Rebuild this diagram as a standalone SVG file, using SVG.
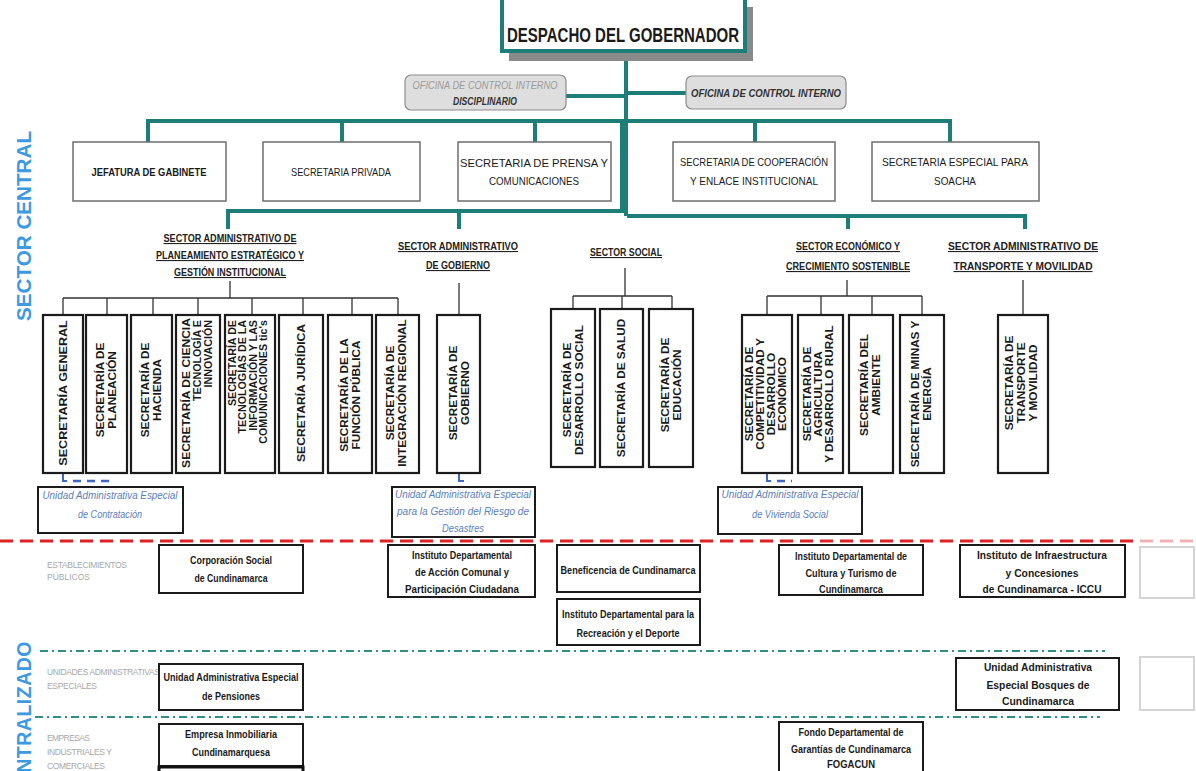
<svg xmlns="http://www.w3.org/2000/svg" width="1196" height="771" viewBox="0 0 1196 771">
<style>
text{font-family:"Liberation Sans Narrow","Liberation Sans",Arial,sans-serif}
.teal{stroke:#1d7d78;stroke-width:4;fill:none}
.blk{stroke:#333;stroke-width:1.3;fill:none}
.blue{stroke:#3f66c9;stroke-width:2;fill:none}
.bdash{stroke:#3f66c9;stroke-width:2.5;fill:none;stroke-dasharray:8 6}
.rbox{fill:#fff;stroke:#6e6e6e;stroke-width:1.5}
.vbox{fill:#fff;stroke:#1b1b1b;stroke-width:2.2}
.bbox{fill:#fff;stroke:#1b1b1b;stroke-width:2}
.obox{fill:#dedede;stroke:#8c8c8c;stroke-width:1.2}
.hd{font-size:11px;font-weight:bold;fill:#222;text-decoration:underline;text-anchor:middle}
.rt{font-size:10.5px;fill:#1a1a1a;text-anchor:middle}
.vt{font-size:11px;font-weight:bold;fill:#1a1a1a;text-anchor:middle}
.ve{font-size:10px;font-weight:bold;fill:#1a1a1a;text-anchor:end}
.bt{font-size:11px;font-weight:bold;fill:#1a1a1a;text-anchor:middle}
.ut{font-size:10.5px;font-style:italic;fill:#5a80b8;text-anchor:middle}
.gl{font-size:8.5px;fill:#a8a8a8}
.side{font-size:19.5px;font-weight:bold;fill:#3d9ae0}
.red{stroke:#dc2222;stroke-width:3;stroke-dasharray:13 7;fill:none}
.dd{stroke:#2f8f86;stroke-width:2;stroke-dasharray:8 4 2 4;fill:none}
</style>

<g id="side-labels">
<text class="side" transform="translate(31,226) rotate(-90)" text-anchor="middle" textLength="190" lengthAdjust="spacingAndGlyphs">SECTOR CENTRAL</text>
<text class="side" transform="translate(31,641) rotate(-90)" text-anchor="end" letter-spacing="0.5">NTRALIZADO</text>
<text class="gl" x="47" y="568" textLength="80">ESTABLECIMIENTOS</text>
<text class="gl" x="47" y="580" textLength="43">PÚBLICOS</text>
<text class="gl" x="47" y="675" textLength="113">UNIDADES ADMINISTRATIVAS</text>
<text class="gl" x="47" y="689" textLength="50">ESPECIALES</text>
<text class="gl" x="47" y="741" textLength="43">EMPRESAS</text>
<text class="gl" x="47" y="755" textLength="65">INDUSTRIALES Y</text>
<text class="gl" x="47" y="769" textLength="58">COMERCIALES</text>
</g>

<g id="separators">
<path class="red" d="M0,541 H1140"/>
<path class="red" d="M1140,541 H1196" stroke-opacity="0.35"/>
<path class="dd" d="M40,651 H1105"/>
<path class="dd" d="M35,717 H1100"/>
</g>

<g id="connectors">
<path class="teal" d="M626,50 V216"/>
<path class="teal" d="M566,96 H626"/>
<path class="teal" d="M626,93 H686"/>
<path class="teal" d="M148,142 V121 H950 V142"/>
<path class="teal" d="M342,121 V142 M535,121 V142 M755,121 V142"/>
<path class="teal" d="M622,121 V211 H228 V229"/>
<path class="teal" d="M627,216 H1025 V229"/>
<path class="teal" d="M459,211 V229 M848,216 V229"/>
<path class="blk" d="M230,281 V298 M63,298 H398 M63,298 V315 M107,298 V315 M153,298 V315 M198,298 V315 M252,298 V315 M303,298 V315 M352,298 V315 M398,298 V315"/>
<path class="blk" d="M459,283 V315"/>
<path class="blk" d="M625,268 V296 M573,296 H672 M573,296 V309 M622,296 V309 M672,296 V309"/>
<path class="blk" d="M847,280 V296 M767,296 H922 M767,296 V315 M821,296 V315 M872,296 V315 M922,296 V315"/>
<path class="blk" d="M1023,280 V315"/>
<path class="blue" d="M63,474 V481 H67"/>
<path class="bdash" d="M73,481 H113"/>
<path class="blue" d="M459,474 V481 H464"/>
<path class="blue" d="M767,474 V481 H771"/>
<path class="bdash" d="M777,481 H792"/>
</g>

<g id="despacho">
<rect x="509" y="7" width="244" height="54" fill="#8a8a8a"/>
<rect x="502" y="-2" width="243" height="53" fill="#fff" stroke="#1d7d78" stroke-width="4"/>
<text x="623" y="42" font-size="21" font-weight="bold" fill="#1a1a1a" text-anchor="middle" textLength="232" lengthAdjust="spacingAndGlyphs">DESPACHO DEL GOBERNADOR</text>
</g>

<g id="oficina-disciplinario">
<rect class="obox" x="405" y="75" width="161" height="35" rx="6"/>
<text x="485" y="89" font-size="10" font-style="italic" fill="#9a9a9a" text-anchor="middle" textLength="145" lengthAdjust="spacingAndGlyphs">OFICINA  DE CONTROL INTERNO</text>
<text x="485" y="105" font-size="10" font-style="italic" font-weight="bold" fill="#333" text-anchor="middle" textLength="64" lengthAdjust="spacingAndGlyphs">DISCIPLINARIO</text>
</g>
<g id="oficina-control">
<rect class="obox" x="686" y="76" width="160" height="33" rx="6"/>
<text x="766" y="97" font-size="10" font-style="italic" font-weight="bold" fill="#333" text-anchor="middle" textLength="150" lengthAdjust="spacingAndGlyphs">OFICINA  DE CONTROL INTERNO</text>
</g>

<g id="jefatura"><rect class="rbox" x="73" y="142" width="153" height="59"/>
<text class="rt" x="149" y="176" font-weight="bold" textLength="115" lengthAdjust="spacingAndGlyphs">JEFATURA DE GABINETE</text></g>
<g id="privada"><rect class="rbox" x="263" y="142" width="157" height="59"/>
<text class="rt" x="341" y="176" textLength="100" lengthAdjust="spacingAndGlyphs">SECRETARIA PRIVADA</text></g>
<g id="prensa"><rect class="rbox" x="458" y="142" width="153" height="59"/>
<text class="rt" x="534" y="167" textLength="148" lengthAdjust="spacingAndGlyphs">SECRETARIA DE PRENSA Y</text>
<text class="rt" x="534" y="185" textLength="90" lengthAdjust="spacingAndGlyphs">COMUNICACIONES</text></g>
<g id="cooperacion"><rect class="rbox" x="673" y="142" width="162" height="59"/>
<text class="rt" x="754" y="166" textLength="148" lengthAdjust="spacingAndGlyphs">SECRETARIA DE  COOPERACIÓN</text>
<text class="rt" x="754" y="185" textLength="128" lengthAdjust="spacingAndGlyphs">Y ENLACE INSTITUCIONAL</text></g>
<g id="soacha"><rect class="rbox" x="872" y="142" width="167" height="59"/>
<text class="rt" x="955" y="166" textLength="146" lengthAdjust="spacingAndGlyphs">SECRETARIA ESPECIAL PARA</text>
<text class="rt" x="955" y="185" textLength="42" lengthAdjust="spacingAndGlyphs">SOACHA</text></g>

<g id="sector-planeamiento">
<text class="hd" x="230" y="242" textLength="133" lengthAdjust="spacingAndGlyphs">SECTOR ADMINISTRATIVO DE</text>
<text class="hd" x="230" y="259" textLength="148" lengthAdjust="spacingAndGlyphs">PLANEAMIENTO ESTRATÉGICO Y</text>
<text class="hd" x="230" y="276" textLength="112" lengthAdjust="spacingAndGlyphs">GESTIÓN INSTITUCIONAL</text>
</g>
<g id="sector-gobierno">
<text class="hd" x="458" y="250" textLength="120" lengthAdjust="spacingAndGlyphs">SECTOR  ADMINISTRATIVO</text>
<text class="hd" x="458" y="269" textLength="64" lengthAdjust="spacingAndGlyphs">DE GOBIERNO</text>
</g>
<g id="sector-social">
<text class="hd" x="626" y="256" textLength="72" lengthAdjust="spacingAndGlyphs">SECTOR SOCIAL</text>
</g>
<g id="sector-economico">
<text class="hd" x="848" y="250" textLength="104" lengthAdjust="spacingAndGlyphs">SECTOR ECONÓMICO Y</text>
<text class="hd" x="848" y="270" textLength="124" lengthAdjust="spacingAndGlyphs">CRECIMIENTO SOSTENIBLE</text>
</g>
<g id="sector-transporte">
<text class="hd" x="1023" y="250" textLength="150" lengthAdjust="spacingAndGlyphs">SECTOR ADMINISTRATIVO DE</text>
<text class="hd" x="1023" y="270" textLength="139" lengthAdjust="spacingAndGlyphs">TRANSPORTE Y MOVILIDAD</text>
</g>

<g id="sec-general"><rect class="vbox" x="43" y="315" width="40" height="158"/>
<text class="vt" transform="translate(67,393) rotate(-90) scale(1.07,1)" textLength="136" lengthAdjust="spacingAndGlyphs">SECRETARÍA GENERAL</text></g>
<g id="sec-planeacion"><rect class="vbox" x="86" y="315" width="41" height="158"/>
<text class="vt" transform="translate(104,390) rotate(-90) scale(1.07,1)"><tspan x="0" y="0">SECRETARÍA DE</tspan><tspan x="0" y="12">PLANEACIÓN</tspan></text></g>
<g id="sec-hacienda"><rect class="vbox" x="131" y="315" width="41" height="158"/>
<text class="vt" transform="translate(149,390) rotate(-90) scale(1.07,1)"><tspan x="0" y="0">SECRETARÍA DE</tspan><tspan x="0" y="12">HACIENDA</tspan></text></g>
<g id="sec-ciencia"><rect class="vbox" x="176" y="315" width="44" height="158"/>
<text class="vt" transform="translate(189.5,393) rotate(-90) scale(1.07,1)" textLength="140" lengthAdjust="spacingAndGlyphs">SECRETARÍA DE CIENCIA</text>
<text class="ve" transform="translate(201,320) rotate(-90) scale(1.07,1)"><tspan x="0" y="0">TECNOLOGÍA E</tspan><tspan x="0" y="11">INNOVACIÓN</tspan></text></g>
<g id="sec-tic"><rect class="vbox" x="225" y="315" width="50" height="158"/>
<text class="ve" transform="translate(236,320) rotate(-90) scale(1.07,1)"><tspan x="0" y="0">SECRETARÍA DE</tspan><tspan x="0" y="10.5">TECNOLOGÍAS DE LA</tspan><tspan x="0" y="21">INFORMACIÓN Y LAS</tspan><tspan x="0" y="31.5">COMUNICACIONES tic's</tspan></text></g>
<g id="sec-juridica"><rect class="vbox" x="279" y="315" width="44" height="158"/>
<text class="vt" transform="translate(305,393) rotate(-90) scale(1.07,1)" textLength="129" lengthAdjust="spacingAndGlyphs">SECRETARÍA JURÍDICA</text></g>
<g id="sec-funcion"><rect class="vbox" x="328" y="315" width="44" height="158"/>
<text class="vt" transform="translate(348,395) rotate(-90) scale(1.07,1)"><tspan x="0" y="0">SECRETARÍA DE LA</tspan><tspan x="0" y="12">FUNCIÓN PÚBLICA</tspan></text></g>
<g id="sec-integracion"><rect class="vbox" x="376" y="315" width="43" height="158"/>
<text class="vt" transform="translate(394,393) rotate(-90) scale(1.07,1)"><tspan x="0" y="0">SECRETARÍA DE</tspan><tspan x="0" y="12">INTEGRACIÓN REGIONAL</tspan></text></g>

<g id="sec-gobierno"><rect class="vbox" x="437" y="315" width="43" height="158"/>
<text class="vt" transform="translate(457,393) rotate(-90) scale(1.07,1)"><tspan x="0" y="0">SECRETARÍA DE</tspan><tspan x="0" y="12">GOBIERNO</tspan></text></g>

<g id="sec-desarrollo-social"><rect class="vbox" x="551" y="309" width="44" height="158"/>
<text class="vt" transform="translate(571,390) rotate(-90) scale(1.07,1)"><tspan x="0" y="0">SECRETARÍA DE</tspan><tspan x="0" y="12">DESARROLLO SOCIAL</tspan></text></g>
<g id="sec-salud"><rect class="vbox" x="600" y="309" width="43" height="158"/>
<text class="vt" transform="translate(625,388) rotate(-90) scale(1.07,1)">SECRETARÍA DE SALUD</text></g>
<g id="sec-educacion"><rect class="vbox" x="649" y="309" width="44" height="158"/>
<text class="vt" transform="translate(669,385) rotate(-90) scale(1.07,1)"><tspan x="0" y="0">SECRETARÍA DE</tspan><tspan x="0" y="12">EDUCACIÓN</tspan></text></g>

<g id="sec-competitividad"><rect class="vbox" x="742" y="315" width="50" height="158"/>
<text class="vt" transform="translate(753,394) rotate(-90) scale(1.07,1)"><tspan x="0" y="0">SECRETARÍA DE</tspan><tspan x="0" y="11">COMPETITIVIDAD Y</tspan><tspan x="0" y="22">DESARROLLO</tspan><tspan x="0" y="33">ECONÓMICO</tspan></text></g>
<g id="sec-agricultura"><rect class="vbox" x="798" y="315" width="45" height="158"/>
<text class="vt" transform="translate(810.5,394) rotate(-90) scale(1.07,1)"><tspan x="0" y="0">SECRETARÍA DE</tspan><tspan x="0" y="11.5">AGRICULTURA</tspan><tspan x="0" y="23">Y  DESARROLLO RURAL</tspan></text></g>
<g id="sec-ambiente"><rect class="vbox" x="849" y="315" width="44" height="158"/>
<text class="vt" transform="translate(868,385) rotate(-90) scale(1.07,1)"><tspan x="0" y="0">SECRETARÍA DEL</tspan><tspan x="0" y="12">AMBIENTE</tspan></text></g>
<g id="sec-minas"><rect class="vbox" x="900" y="315" width="44" height="158"/>
<text class="vt" transform="translate(919,394) rotate(-90) scale(1.07,1)"><tspan x="0" y="0">SECRETARÍA DE MINAS Y</tspan><tspan x="0" y="12">ENERGÍA</tspan></text></g>

<g id="sec-transporte"><rect class="vbox" x="998" y="315" width="50" height="158"/>
<text class="vt" transform="translate(1013,383) rotate(-90) scale(1.07,1)"><tspan x="0" y="0">SECRETARÍA DE</tspan><tspan x="0" y="12">TRANSPORTE</tspan><tspan x="0" y="24">Y MOVILIDAD</tspan></text></g>

<g id="uae-contratacion"><rect class="bbox" x="38" y="487" width="145" height="46"/>
<text class="ut" x="110" y="499" textLength="135" lengthAdjust="spacingAndGlyphs">Unidad  Administrativa Especial</text>
<text class="ut" x="110" y="518" textLength="64" lengthAdjust="spacingAndGlyphs">de Contratación</text></g>
<g id="uae-riesgo"><rect class="bbox" x="392" y="487" width="143" height="50"/>
<text class="ut" x="463" y="498" textLength="136" lengthAdjust="spacingAndGlyphs">Unidad  Administrativa Especial</text>
<text class="ut" x="463" y="515" textLength="132" lengthAdjust="spacingAndGlyphs">para la Gestión  del  Riesgo de</text>
<text class="ut" x="463" y="532" textLength="42" lengthAdjust="spacingAndGlyphs">Desastres</text></g>
<g id="uae-vivienda"><rect class="bbox" x="718" y="487" width="144" height="47"/>
<text class="ut" x="790" y="498" textLength="137" lengthAdjust="spacingAndGlyphs">Unidad  Administrativa Especial</text>
<text class="ut" x="790" y="518" textLength="76" lengthAdjust="spacingAndGlyphs">de Vivienda Social</text></g>

<g id="corporacion-social"><rect class="bbox" x="159" y="545" width="144" height="48"/>
<text class="bt" x="231" y="564" textLength="82" lengthAdjust="spacingAndGlyphs">Corporación Social</text>
<text class="bt" x="231" y="582" textLength="73" lengthAdjust="spacingAndGlyphs">de Cundinamarca</text></g>
<g id="idaco"><rect class="bbox" x="388" y="545" width="147" height="52"/>
<text class="bt" x="462" y="559" textLength="100" lengthAdjust="spacingAndGlyphs">Instituto Departamental</text>
<text class="bt" x="462" y="576" textLength="94" lengthAdjust="spacingAndGlyphs">de Acción Comunal y</text>
<text class="bt" x="462" y="593" textLength="114" lengthAdjust="spacingAndGlyphs">Participación Ciudadana</text></g>
<g id="beneficencia"><rect class="bbox" x="557" y="545" width="143" height="47"/>
<text class="bt" x="628" y="574" textLength="135" lengthAdjust="spacingAndGlyphs">Beneficencia de Cundinamarca</text></g>
<g id="indeportes"><rect class="bbox" x="557" y="599" width="143" height="46"/>
<text class="bt" x="628" y="618" textLength="132" lengthAdjust="spacingAndGlyphs">Instituto Departamental para la</text>
<text class="bt" x="628" y="637" textLength="103" lengthAdjust="spacingAndGlyphs">Recreación y el Deporte</text></g>
<g id="idecut"><rect class="bbox" x="779" y="545" width="144" height="50"/>
<text class="bt" x="851" y="560" textLength="112" lengthAdjust="spacingAndGlyphs">Instituto Departamental de</text>
<text class="bt" x="851" y="577" textLength="91" lengthAdjust="spacingAndGlyphs">Cultura y Turismo de</text>
<text class="bt" x="851" y="593" textLength="64" lengthAdjust="spacingAndGlyphs">Cundinamarca</text></g>
<g id="iccu"><rect class="bbox" x="960" y="545" width="165" height="52"/>
<text class="bt" x="1042" y="559" textLength="130" lengthAdjust="spacingAndGlyphs">Instituto de Infraestructura</text>
<text class="bt" x="1042" y="577" textLength="73" lengthAdjust="spacingAndGlyphs">y Concesiones</text>
<text class="bt" x="1042" y="593" textLength="119" lengthAdjust="spacingAndGlyphs">de Cundinamarca - ICCU</text></g>
<g id="uae-pensiones"><rect class="bbox" x="159" y="664" width="144" height="46"/>
<text class="bt" x="231" y="681" textLength="135" lengthAdjust="spacingAndGlyphs">Unidad Administrativa Especial</text>
<text class="bt" x="231" y="700" textLength="58" lengthAdjust="spacingAndGlyphs">de Pensiones</text></g>
<g id="uae-bosques"><rect class="bbox" x="956" y="658" width="163" height="52"/>
<text class="bt" x="1038" y="671" textLength="108" lengthAdjust="spacingAndGlyphs">Unidad Administrativa</text>
<text class="bt" x="1038" y="689" textLength="103" lengthAdjust="spacingAndGlyphs">Especial Bosques de</text>
<text class="bt" x="1038" y="705" textLength="72" lengthAdjust="spacingAndGlyphs">Cundinamarca</text></g>
<g id="empresa-inmobiliaria"><rect class="bbox" x="159" y="724" width="144" height="42"/>
<text class="bt" x="231" y="738" textLength="92" lengthAdjust="spacingAndGlyphs">Empresa Inmobiliaria</text>
<text class="bt" x="231" y="756" textLength="78" lengthAdjust="spacingAndGlyphs">Cundinamarquesa</text></g>
<g id="box-below-empresa"><rect x="159" y="767" width="144" height="12" fill="#fff" stroke="#111" stroke-width="3"/></g>
<g id="fogacun"><rect class="bbox" x="779" y="722" width="144" height="60"/>
<text class="bt" x="851" y="736" textLength="105" lengthAdjust="spacingAndGlyphs">Fondo Departamental de</text>
<text class="bt" x="851" y="753" textLength="120" lengthAdjust="spacingAndGlyphs">Garantías de Cundinamarca</text>
<text class="bt" x="851" y="768" textLength="48" lengthAdjust="spacingAndGlyphs">FOGACUN</text></g>

<g id="faded-edge">
<rect x="1140" y="547" width="54" height="51" fill="none" stroke="#d4d4d4" stroke-width="2"/>
<rect x="1140" y="657" width="54" height="53" fill="none" stroke="#d4d4d4" stroke-width="2"/>
</g>
</svg>
